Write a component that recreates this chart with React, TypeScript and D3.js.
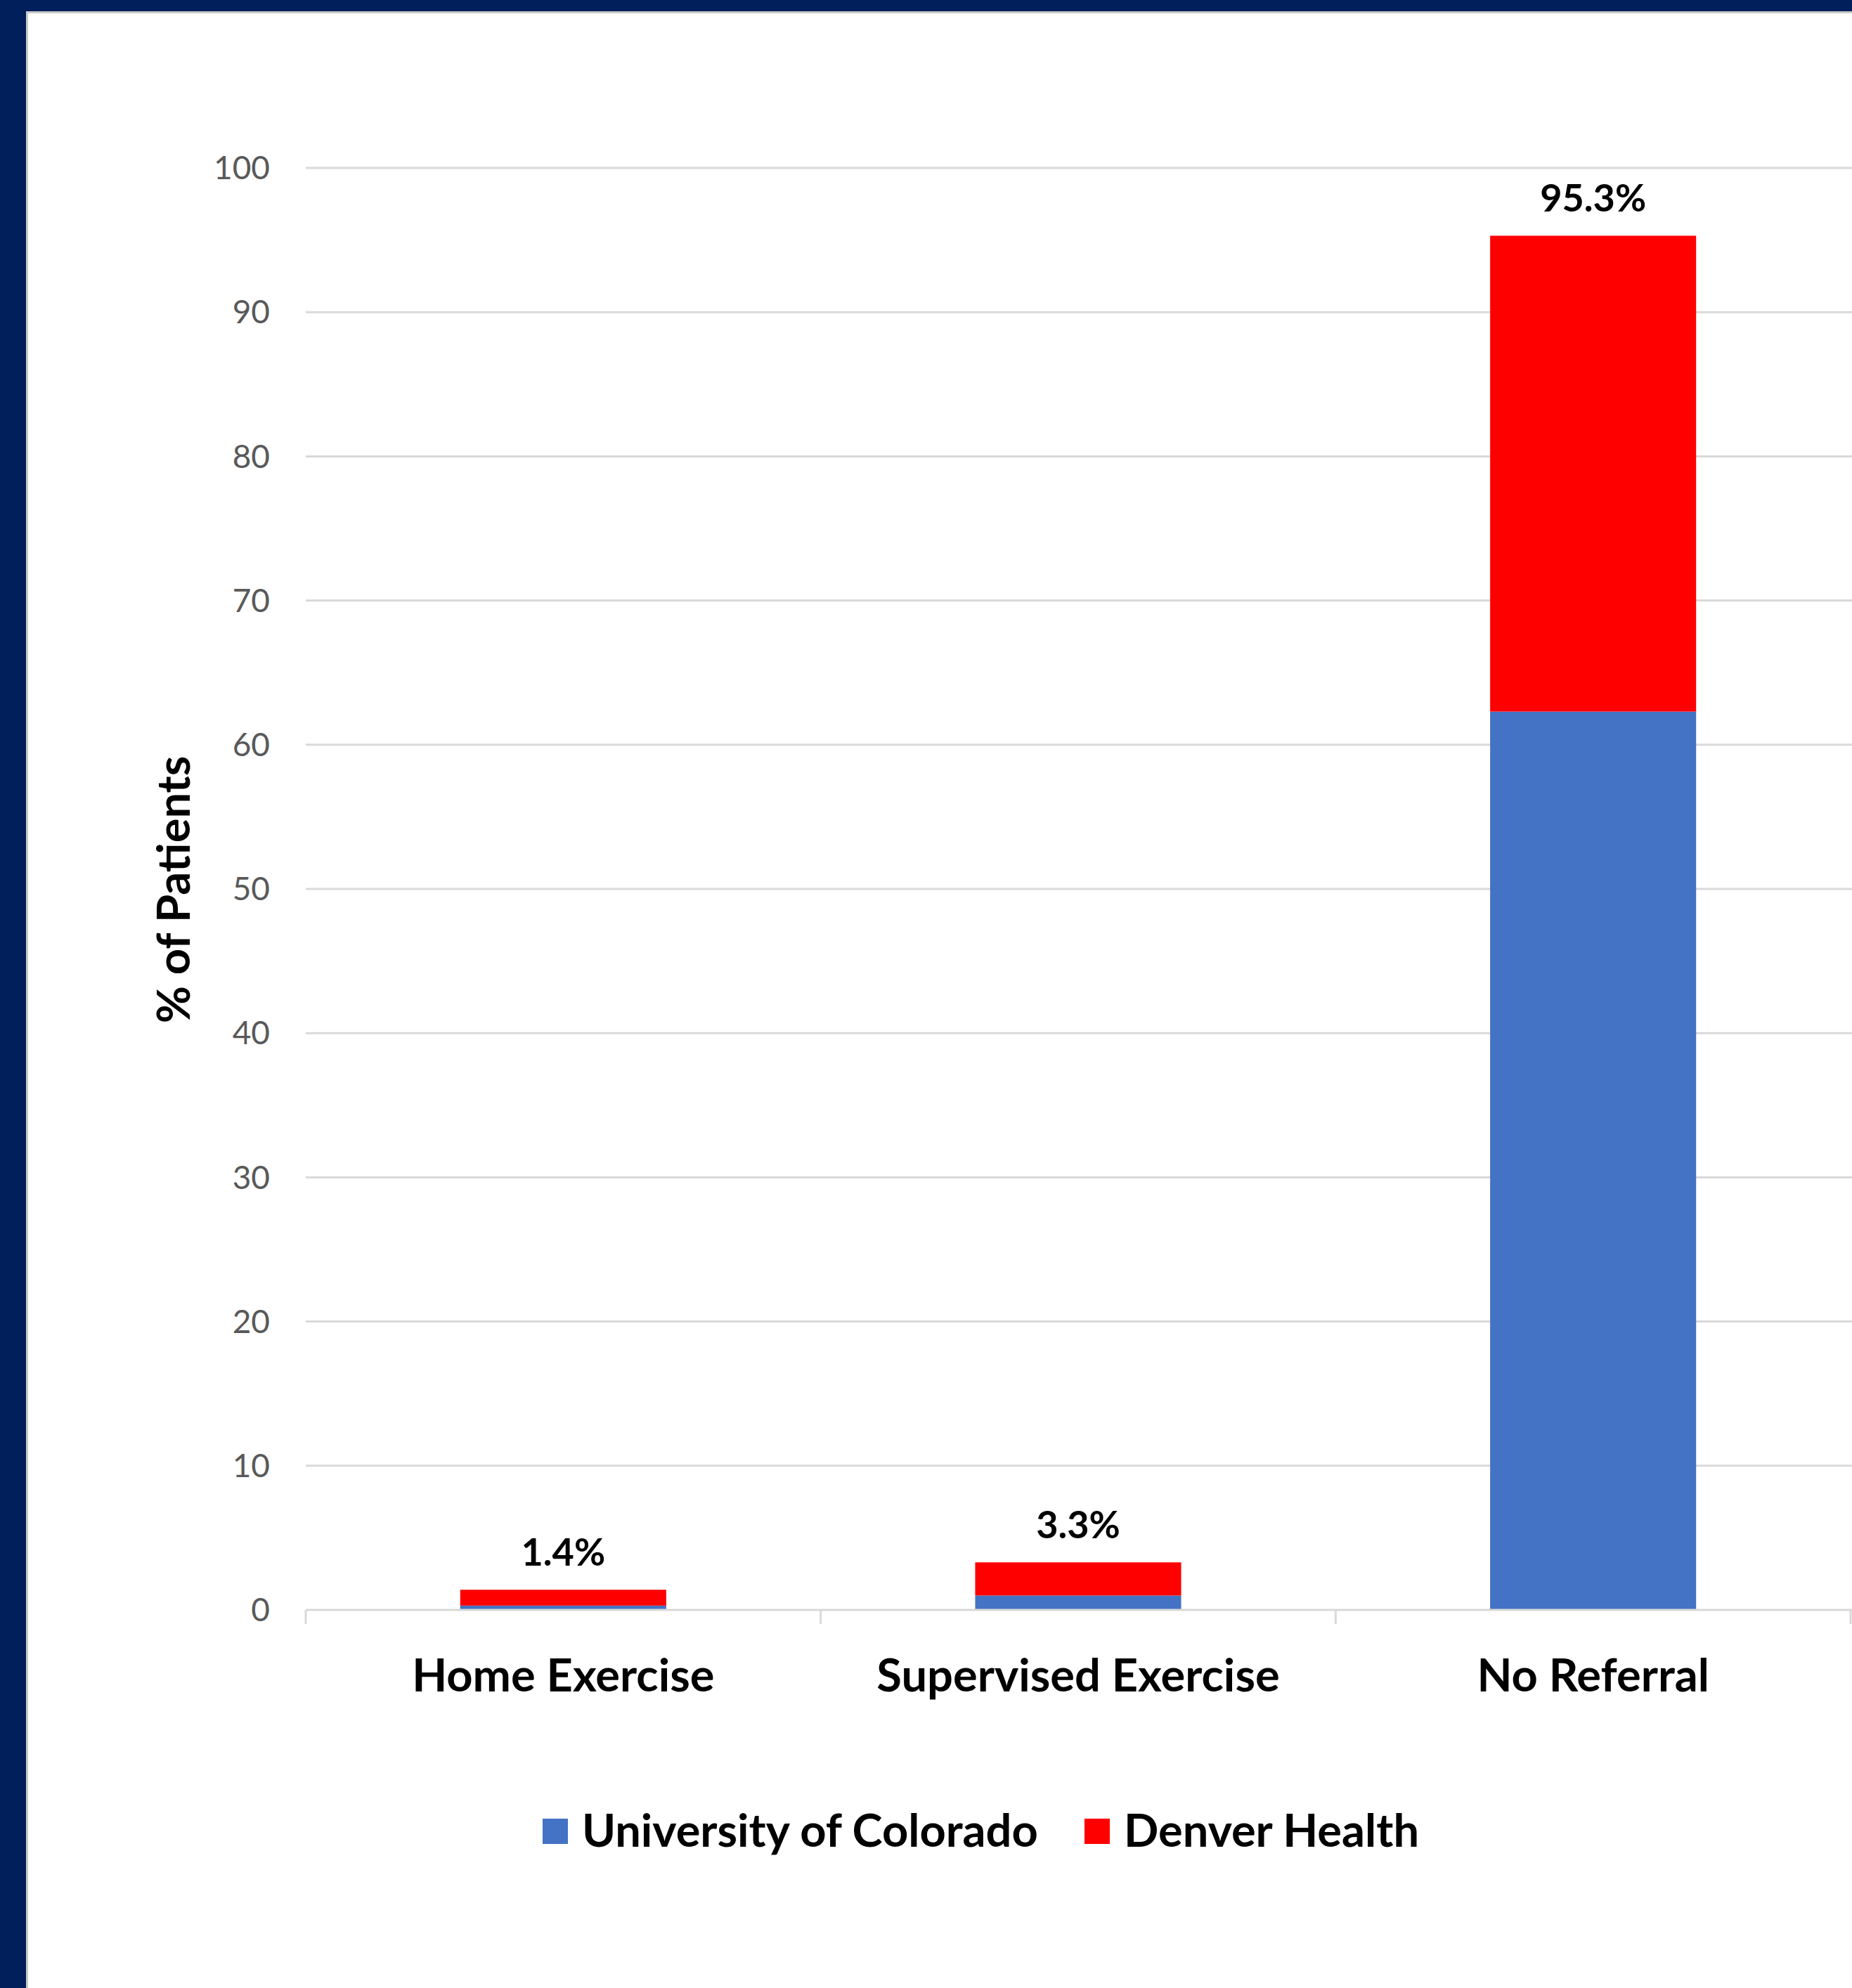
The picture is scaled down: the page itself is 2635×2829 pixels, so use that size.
import React from "react";
import * as d3 from "d3";

const categories = ["Home Exercise", "Supervised Exercise", "No Referral"];
const seriesNames = ["University of Colorado", "Denver Health"];
const ucValues = [0.3, 1.0, 62.3];
const dhValues = [1.1, 2.3, 33.0];
const totalLabels = ["1.4%", "3.3%", "95.3%"];
const yTicks = [0, 10, 20, 30, 40, 50, 60, 70, 80, 90, 100];
const colors = ["#4472C4", "#FF0000"];

const W = 2635;
const H = 2829;
const FONT = "Lato, 'Open Sans', sans-serif";

export default function App() {
  const x = d3.scaleBand<string>().domain(categories).range([435, 2633]).paddingInner(0.6).paddingOuter(0.3);
  const band = d3.scaleBand<string>().domain(categories).range([435, 2633]);
  const y = d3.scaleLinear().domain([0, 100]).range([2291, 239]);

  const rows = categories.map((c, i) => ({ cat: c, uc: ucValues[i], dh: dhValues[i] }));
  const stack = d3.stack<any>().keys(["uc", "dh"]);
  const layers = stack(rows);

  const boundaries = categories.map((c) => band(c)!).concat([band.range()[1]]);

  return (
    <svg width={W} height={H} style={{ position: "absolute", left: 0, top: 0, background: "#fff" }}>
      <rect x={0} y={0} width={W} height={H} fill="#fff" />
      {/* frame */}
      <rect x={0} y={0} width={W} height={16} fill="#001F5B" />
      <rect x={0} y={0} width={37} height={H} fill="#001F5B" />
      <line x1={38.5} y1={16} x2={38.5} y2={H} stroke="#c8c8c8" strokeWidth={3} />
      <line x1={37} y1={17.5} x2={W} y2={17.5} stroke="#c8c8c8" strokeWidth={3} />

      {/* gridlines */}
      {yTicks.filter((t) => t > 0).map((t) => (
        <line key={t} x1={435} x2={2635} y1={y(t)} y2={y(t)} stroke="#D9D9D9" strokeWidth={3} />
      ))}
      {/* y tick labels */}
      {yTicks.map((t) => (
        <text key={t} x={384} y={y(t)} dy="0.35em" textAnchor="end" fontFamily={FONT} fontSize={46} fill="#595959">
          {t}
        </text>
      ))}

      {/* bars */}
      {layers.map((layer, li) =>
        layer.map((d, i) => (
          <rect
            key={li + "-" + i}
            x={x(categories[i])}
            width={x.bandwidth()}
            y={y(d[1])}
            height={y(d[0]) - y(d[1])}
            fill={colors[li]}
          />
        ))
      )}

      {/* x axis */}
      <line x1={435} x2={2635} y1={y(0)} y2={y(0)} stroke="#D9D9D9" strokeWidth={3} />
      {boundaries.map((bx, i) => (
        <line key={i} x1={bx} x2={bx} y1={y(0)} y2={y(0) + 20} stroke="#D9D9D9" strokeWidth={3} />
      ))}

      {/* total labels */}
      {categories.map((c, i) => (
        <text
          key={c}
          x={x(c)! + x.bandwidth() / 2}
          y={y(ucValues[i] + dhValues[i]) - 34}
          textAnchor="middle"
          fontFamily={FONT}
          fontWeight="bold"
          fontSize={54}
          fill="#000"
        >
          {totalLabels[i]}
        </text>
      ))}

      {/* category labels */}
      {categories.map((c) => (
        <text
          key={c}
          x={band(c)! + band.bandwidth() / 2}
          y={2407}
          textAnchor="middle"
          fontFamily={FONT}
          fontWeight="bold"
          fontSize={65}
          fill="#000"
        >
          {c}
        </text>
      ))}

      {/* y axis title */}
      <text
        transform={`translate(270, ${1266}) rotate(-90)`}
        textAnchor="middle"
        fontFamily={FONT}
        fontWeight="bold"
        fontSize={65}
        fill="#000"
      >
        % of Patients
      </text>

      {/* legend */}
      <rect x={772} y={2588} width={36} height={36} fill={colors[0]} />
      <text x={828} y={2628} fontFamily={FONT} fontWeight="bold" fontSize={65} fill="#000">
        {seriesNames[0]}
      </text>
      <rect x={1543} y={2588} width={36} height={36} fill={colors[1]} />
      <text x={1599} y={2628} fontFamily={FONT} fontWeight="bold" fontSize={65} fill="#000">
        {seriesNames[1]}
      </text>
    </svg>
  );
}
